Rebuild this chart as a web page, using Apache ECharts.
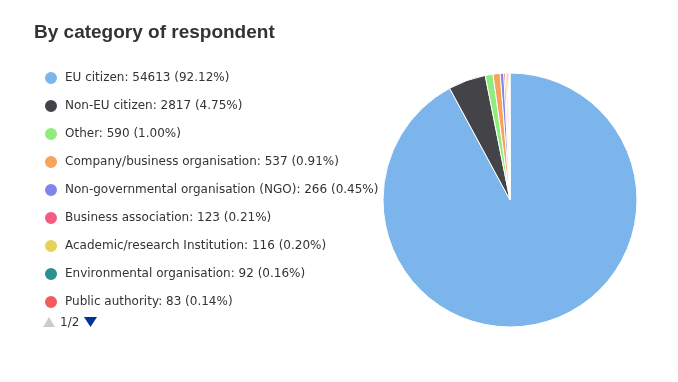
<!DOCTYPE html>
<html>
<head>
<meta charset="utf-8">
<script src="https://cdn.jsdelivr.net/npm/echarts@6/dist/echarts.min.js"></script>
<style>
html,body{margin:0;padding:0;background:#fff;}
#main{width:678px;height:382px;}
</style>
</head>
<body>
<div id="main"></div>
<script>
const categories = [
  'EU citizen',
  'Non-EU citizen',
  'Other',
  'Company/business organisation',
  'Non-governmental organisation (NGO)',
  'Business association',
  'Academic/research Institution',
  'Environmental organisation',
  'Public authority',
  'Trade union',
  'Consumer organisation'
];
const values = [54613, 2817, 590, 537, 266, 123, 116, 92, 83, 30, 18];
const colors = ['#7cb5ec', '#434348', '#90ed7d', '#f7a35c', '#8085e9', '#f15c80', '#e4d354', '#2b908f', '#f45b5b', '#91e8e1', '#7cb5ec'];
const legendPageSize = 9;
const pageText = '1/2';

const total = values.reduce((a, b) => a + b, 0);
const valueByName = {};
categories.forEach((c, i) => { valueByName[c] = values[i]; });

const chart = echarts.init(document.getElementById('main'));
chart.setOption({
  animation: false,
  color: colors,
  title: {
    text: 'By category of respondent',
    left: 29,
    top: 18,
    textStyle: { fontFamily: 'Liberation Sans, Arial, sans-serif', fontSize: 19, fontWeight: 'bold', color: '#333333' }
  },
  legend: {
    orient: 'vertical',
    left: 38,
    top: 65,
    icon: 'circle',
    itemWidth: 14,
    itemHeight: 14,
    itemGap: 12,
    data: categories.slice(0, legendPageSize),
    formatter: function (name) {
      const v = valueByName[name];
      return name + ': ' + v + ' (' + (v / total * 100).toFixed(2) + '%)';
    },
    textStyle: { fontFamily: 'DejaVu Sans, Verdana, sans-serif', fontSize: 12, color: '#333333', padding: [0, 0, 0, 2] },
    selectedMode: false
  },
  graphic: [
    { type: 'polygon', shape: { points: [[43, 327], [55, 327], [49, 317]] }, style: { fill: '#cccccc' } },
    { type: 'text', left: 60, top: 317, style: { text: pageText, fontFamily: 'DejaVu Sans, Verdana, sans-serif', fontSize: 12, fill: '#333333' } },
    { type: 'polygon', shape: { points: [[84, 317], [97, 317], [90.5, 327]] }, style: { fill: '#003399' } }
  ],
  series: [{
    type: 'pie',
    center: [510, 200],
    radius: 127,
    startAngle: 90,
    clockwise: true,
    label: { show: false },
    labelLine: { show: false },
    itemStyle: { borderColor: '#ffffff', borderWidth: 1 },
    emphasis: { disabled: true },
    data: categories.map((c, i) => ({ name: c, value: values[i] }))
  }]
});
</script>
</body>
</html>
